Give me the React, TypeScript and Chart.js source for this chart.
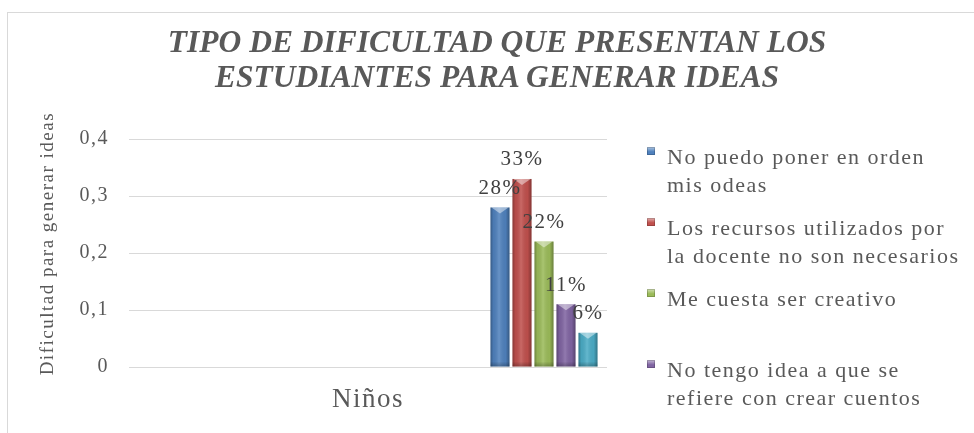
import React, { useEffect, useRef } from "react";
import { Chart, registerables } from "chart.js";

Chart.register(...registerables);

// ---- data ----
const categories = ["Niños"];
const seriesNames = [
  "No puedo poner en orden mis odeas",
  "Los recursos utilizados por la docente no son necesarios",
  "Me cuesta ser creativo",
  "No tengo idea a que se refiere con crear cuentos",
  "",
];
const seriesValues = [0.28, 0.33, 0.22, 0.11, 0.06];
const seriesColors = ["#4F81BD", "#C0504D", "#9BBB59", "#8064A2", "#4BACC6"];
const yTickValues = [0, 0.1, 0.2, 0.3, 0.4];
const titleLines = ["TIPO DE DIFICULTAD QUE PRESENTAN LOS", "ESTUDIANTES PARA GENERAR IDEAS"];
const yAxisTitle = "Dificultad para generar ideas";
// the source workbook holds empty series before the five filled ones
const emptySeriesCount = 16;
// only the first four legend entries fit in the legend box
const legendVisibleCount = 4;

const FONT = "'Liberation Serif', 'Times New Roman', serif";
const TEXT = "#595959";
const SPACING = "1.5px";

Chart.defaults.font.family = FONT;

const spacingPlugin = {
  id: "spacing",
  beforeUpdate(c: any) {
    c.ctx.letterSpacing = SPACING;
  },
  beforeDraw(c: any) {
    c.ctx.letterSpacing = SPACING;
  },
};

const barStylePlugin = {
  id: "barStyle",
  afterDatasetsDraw(chart: any) {
    const ctx = chart.ctx;
    const labels: any[] = [];
    chart.data.datasets.forEach((ds: any, di: number) => {
      const meta = chart.getDatasetMeta(di);
      meta.data.forEach((bar: any, i: number) => {
        const v = ds.data[i];
        if (v == null) return;
        const { x, y, width, base } = bar.getProps(["x", "y", "width", "base"], true);
        const l = x - width / 2;
        const r = x + width / 2;
        ctx.save();
        const g = ctx.createLinearGradient(l, 0, r, 0);
        g.addColorStop(0, "rgba(0,0,0,0.30)");
        g.addColorStop(0.15, "rgba(0,0,0,0.06)");
        g.addColorStop(0.45, "rgba(255,255,255,0.14)");
        g.addColorStop(0.8, "rgba(0,0,0,0.04)");
        g.addColorStop(1, "rgba(0,0,0,0.32)");
        ctx.fillStyle = g;
        ctx.fillRect(l, y, width, base - y);
        ctx.beginPath();
        ctx.moveTo(l + 1, y);
        ctx.lineTo(r - 1, y);
        ctx.lineTo(x, y + 6);
        ctx.closePath();
        ctx.fillStyle = "rgba(255,255,255,0.45)";
        ctx.fill();
        const gb = ctx.createLinearGradient(0, base - 5, 0, base);
        gb.addColorStop(0, "rgba(0,0,0,0)");
        gb.addColorStop(1, "rgba(0,0,0,0.25)");
        ctx.fillStyle = gb;
        ctx.fillRect(l, base - 5, width, 5);
        ctx.restore();
        labels.push({ x, y, text: Math.round(v * 100) + "%" });
      });
    });
    ctx.save();
    ctx.letterSpacing = SPACING;
    ctx.font = `21px ${FONT}`;
    ctx.fillStyle = "#404040";
    ctx.textAlign = "center";
    ctx.textBaseline = "middle";
    labels.forEach((lb) => ctx.fillText(lb.text, lb.x, lb.y - 19));
    ctx.restore();
  },
};

export default function App() {
  const ref = useRef<HTMLCanvasElement>(null);

  useEffect(() => {
    const canvas = ref.current;
    if (!canvas) return;
    const datasets: any[] = [
      ...Array.from({ length: emptySeriesCount }, () => ({
        label: "",
        data: categories.map(() => null),
        backgroundColor: "transparent",
      })),
      ...seriesValues.map((v, i) => ({
        label: seriesNames[i],
        data: [v],
        backgroundColor: seriesColors[i],
        borderWidth: 0,
      })),
    ];
    const chart = new Chart(canvas, {
      type: "bar",
      data: { labels: categories, datasets },
      options: {
        responsive: false,
        animation: false,
        devicePixelRatio: 1,
        datasets: { bar: { categoryPercentage: 0.9665, barPercentage: 0.864 } },
        layout: { padding: { top: 126, right: 379, left: 0, bottom: 0 } },
        plugins: {
          legend: { display: false },
          tooltip: { enabled: false },
          title: { display: false },
        },
        scales: {
          x: {
            grid: { display: false },
            border: { display: false },
            ticks: { color: TEXT, font: { family: FONT, size: 27 }, padding: 9 },
            afterFit: (s: any) => {
              s.height = 66;
            },
          },
          y: {
            min: yTickValues[0],
            max: yTickValues[yTickValues.length - 1],
            afterBuildTicks: (s: any) => {
              s.ticks = yTickValues.map((value) => ({ value }));
            },
            ticks: {
              color: TEXT,
              font: { family: FONT, size: 20 },
              padding: 20,
              callback: (v: any) => (Number(v) === 0 ? "0" : Number(v).toFixed(1).replace(".", ",")),
            },
            grid: { color: "#D9D9D9", drawTicks: false, lineWidth: 1 },
            border: { display: false },
            title: {
              display: true,
              text: "   " + yAxisTitle,
              color: TEXT,
              font: { family: FONT, size: 19, lineHeight: 1.2 },
              padding: { top: 29, bottom: 0 },
            },
            afterFit: (s: any) => {
              s.width = 121;
            },
          },
        },
      } as any,
      plugins: [spacingPlugin, barStylePlugin],
    });
    return () => chart.destroy();
  }, []);

  return (
    <div
      style={{
        position: "absolute",
        left: 0,
        top: 0,
        width: 974,
        height: 433,
        overflow: "hidden",
        background: "#fff",
      }}
    >
      <div
        style={{
          position: "absolute",
          left: 7,
          top: 12,
          width: 990,
          height: 440,
          border: "1px solid #D9D9D9",
          boxSizing: "border-box",
        }}
      />
      <canvas
        ref={ref}
        width={978}
        height={420}
        style={{ position: "absolute", left: 8, top: 13, width: 978, height: 420 }}
      />
      <div
        style={{
          position: "absolute",
          left: 8,
          top: 24,
          width: 978,
          textAlign: "center",
          fontFamily: FONT,
          fontSize: 31.5,
          fontWeight: "bold",
          fontStyle: "italic",
          lineHeight: "35px",
          color: TEXT,
          whiteSpace: "nowrap",
        }}
      >
        {titleLines.map((line, i) => (
          <div key={i}>{line}</div>
        ))}
      </div>
      <div
        style={{
          position: "absolute",
          left: 647,
          top: 143,
          fontFamily: FONT,
          fontSize: 22,
          letterSpacing: SPACING,
          lineHeight: "28px",
          color: TEXT,
        }}
      >
        {seriesNames.slice(0, legendVisibleCount).map((name, i) => (
          <div key={i} style={{ display: "flex", minHeight: 56, marginBottom: 15 }}>
            <span
              style={{
                width: 8,
                height: 8,
                marginTop: 4,
                marginRight: 12,
                flex: "none",
                background: `linear-gradient(to bottom, rgba(255,255,255,0.55), rgba(255,255,255,0) 60%), ${seriesColors[i]}`,
                boxShadow: "inset 0 0 0 1px rgba(0,0,0,0.18)",
              }}
            />
            <span style={{ width: 300 }}>{name}</span>
          </div>
        ))}
      </div>
    </div>
  );
}
